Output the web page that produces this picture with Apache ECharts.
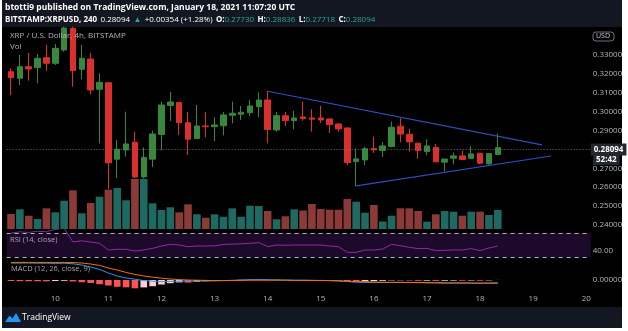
<!DOCTYPE html>
<html><head><meta charset="utf-8">
<script src="https://cdn.jsdelivr.net/npm/echarts@6/dist/echarts.min.js"></script>
<style>html,body{margin:0;padding:0;background:#fff;}#c{width:628px;height:331px;}</style>
</head><body><div id="c"></div>
<script>
// ---- categories: 4h candles from Jan 9 04:00 to Jan 20 00:00 (last 10 slots empty) ----
const dayNums = [9,10,11,12,13,14,15,16,17,18,19,20];
const hourSlots = ['00:00','04:00','08:00','12:00','16:00','20:00'];
const times = [];
dayNums.forEach(d => hourSlots.forEach(h => {
  if (d === 9 && h === '00:00') return;
  if (d === 20 && h !== '00:00') return;
  times.push('Jan ' + d + ' ' + h);
}));

// ---- XRP/USD 4h OHLC ----
const opens  = [0.32116,0.31767,0.32381,0.32328,0.32857,0.32561,0.33265,0.34412,0.32244,0.32788,0.31185,0.31534,0.27482,0.27971,0.28379,0.26541,0.27484,0.28791,0.30327,0.30485,0.29416,0.2858,0.29241,0.29204,0.29252,0.29808,0.29861,0.29946,0.30263,0.30618,0.2903,0.29782,0.29522,0.29718,0.29665,0.29665,0.29612,0.29347,0.29136,0.27355,0.27445,0.28043,0.27948,0.2816,0.29228,0.28805,0.28329,0.27885,0.28107,0.27324,0.27535,0.27657,0.27525,0.278,0.27234,0.2773];
const closes = [0.31799,0.32381,0.32259,0.32825,0.32561,0.33354,0.34429,0.32169,0.32825,0.31148,0.31555,0.27287,0.28011,0.28289,0.26541,0.27574,0.28818,0.30353,0.30512,0.29416,0.28537,0.29241,0.29199,0.29294,0.29824,0.29914,0.29967,0.303,0.30618,0.29056,0.29787,0.29522,0.29665,0.29639,0.29602,0.29559,0.29313,0.29083,0.27297,0.27498,0.28038,0.27974,0.28186,0.29175,0.2881,0.28397,0.27937,0.28186,0.2734,0.27488,0.27657,0.27461,0.27763,0.27271,0.27779,0.28094];
const highs  = [0.32296,0.33,0.33106,0.33053,0.33529,0.33582,0.345,0.345,0.33529,0.33106,0.32032,0.31571,0.285,0.29998,0.28924,0.28103,0.28993,0.30512,0.31041,0.30512,0.29972,0.30353,0.29983,0.29702,0.29972,0.30528,0.303,0.30618,0.31016,0.31094,0.29983,0.29983,0.30036,0.30528,0.30128,0.303,0.2963,0.29384,0.29152,0.28054,0.28133,0.28678,0.28397,0.29472,0.29651,0.29101,0.2835,0.28541,0.28292,0.27498,0.27832,0.27937,0.28171,0.2781,0.2779,0.28836];
const lows   = [0.30883,0.31412,0.3164,0.31503,0.32169,0.32471,0.33175,0.31323,0.31715,0.30909,0.28318,0.25906,0.26489,0.27621,0.26489,0.26462,0.27071,0.27971,0.29506,0.28765,0.27706,0.28553,0.28644,0.28437,0.28739,0.29384,0.29559,0.29771,0.29704,0.28326,0.2894,0.29241,0.29069,0.29522,0.2894,0.29403,0.28874,0.2894,0.27154,0.26043,0.27181,0.27816,0.27604,0.28107,0.28371,0.27885,0.27514,0.27684,0.27324,0.26827,0.27207,0.27445,0.2751,0.27207,0.27181,0.27718];

// ---- Volume (M XRP) ----
const volume = [15,19.7,13.3,10,20.7,16.7,28.3,38.7,15.7,26,32.3,39.3,41,28.7,50,50,25.7,19,21.7,16.7,24.7,14.7,11.3,14.7,12.3,20.7,12.3,23.3,23,18,9.7,12.7,19.7,18.5,25,20,19.3,19.3,30,27.3,16.3,24,7.5,13.3,20.7,20.7,18,7.3,14.7,18,17.3,13.3,17.3,17.3,14,19];

// ---- RSI (14, close) ----
const rsi = [70,72,71,73,72,76,78,55,57,55,52.8,41.7,42.8,42.8,40,41.7,44.4,48.3,51,50,47.2,48.3,48.3,48.6,51,51.5,52,52.8,54,47.2,50,49.5,50,50,50,50,48.3,47.2,37.8,37.8,41.7,41.7,43.3,51.1,48.9,46.1,44,44.4,40.6,41.1,41.7,41.7,44,40.6,45,48.3];
const rsiBands = [30, 70];

// ---- MACD (12, 26, close, 9) ----
const macd = [0.0085,0.0085,0.0085,0.0084,0.0084,0.0083,0.0084,0.0081,0.0075,0.0065,0.0053,0.0035,0.0020,0.0010,0.0004,-0.0003,-0.0006,-0.0008,-0.0007,-0.0006,-0.0006,-0.0005,-0.0005,-0.0004,-0.0003,-0.0002,0.0000,0.0001,0.0002,0.0001,0.0000,0.0000,-0.0001,-0.0001,-0.0002,-0.0002,-0.0003,-0.0005,-0.0008,-0.0011,-0.0012,-0.0013,-0.0013,-0.0012,-0.0012,-0.0012,-0.0013,-0.0013,-0.0014,-0.0015,-0.0015,-0.0015,-0.0015,-0.0016,-0.0015,-0.0014];
const signal = [0.0088,0.0088,0.0088,0.0088,0.0088,0.0088,0.0088,0.0087,0.0085,0.0080,0.0073,0.0060,0.0050,0.0038,0.0028,0.0020,0.0014,0.0009,0.0005,0.0002,0.0000,-0.0001,-0.0002,-0.0003,-0.0003,-0.0002,-0.0002,-0.0001,-0.0001,-0.0001,-0.0001,-0.0001,-0.0002,-0.0002,-0.0002,-0.0003,-0.0003,-0.0004,-0.0006,-0.0008,-0.0009,-0.0010,-0.0011,-0.0012,-0.0012,-0.0013,-0.0013,-0.0014,-0.0014,-0.0015,-0.0015,-0.0015,-0.0016,-0.0016,-0.0016,-0.0016];
const hist = [-0.0005,-0.00055,-0.0006,-0.00062,-0.00065,-0.0005,-0.0004,-0.0007,-0.0011,-0.0015,-0.0021,-0.00275,-0.0034,-0.00365,-0.00415,-0.0037,-0.0031,-0.00225,-0.0016,-0.0012,-0.0013,-0.0009,-0.0006,-0.0004,-0.0002,-0.00005,0.00015,0.00025,0.0003,0.00015,0.0001,0.0,-0.00005,-0.00005,-0.0001,-0.00015,-0.00025,-0.00035,-0.0006,-0.0008,-0.0007,-0.00055,-0.0004,-0.0002,-0.00015,-0.00025,-0.0004,-0.00035,-0.00045,-0.00035,-0.0003,-0.00035,-0.00025,-0.00035,-0.0002,0.00005];

// ---- triangle trend lines [candle index], [price] ----
const upperTrendIdx = [29, 60], upperTrend = [0.3108, 0.2824];
const lowerTrendIdx = [39, 61], lowerTrend = [0.2607, 0.2765];

// ---- text ----
const publishLine = 'btotti9 published on TradingView.com, January 18, 2021 11:07:20 UTC';
const symbolText = 'BITSTAMP:XRPUSD, 240';
const changeText = '+0.00354 (+1.28%)';
const countdown = '52:42';

const upC = '#37873d', dnC = '#d9302c';
const volUp = '#1e6a62', volDn = '#8c3a37';
const GL = 6.6, GW = 584.1;
const labelColor = '#b2b5be';
const FF = 'Open Sans';

const candleData = opens.map((o, i) => [o, closes[i], lows[i], highs[i]]);
const volData = volume.map((v, i) => ({value: v, itemStyle: {color: closes[i] >= opens[i] ? volUp : volDn}}));
const histData = hist.map((h, i) => {
  const prev = i > 0 ? hist[i - 1] : 0;
  let c;
  if (h >= 0) c = h >= prev ? '#26a69a' : '#b2dfdb';
  else c = h < prev ? '#ff5252' : '#ffcdd2';
  return {value: h, itemStyle: {color: c}};
});
const last = closes.length - 1;
const f5 = v => v.toFixed(5);

const chart = echarts.init(document.getElementById('c'), null, {renderer: 'canvas', width: 628, height: 331});

const hiddenX = gi => ({type: 'category', gridIndex: gi, data: times, show: false, boundaryGap: true});

const option = {
  animation: false,
  backgroundColor: '#ffffff',
  textStyle: {fontFamily: FF},
  grid: [
    {left: GL, width: GW, top: 26.67, height: 207.7, outerBoundsMode: 'none'},
    {left: GL, width: GW, top: 129, height: 100, outerBoundsMode: 'none'},
    {left: GL, width: GW, top: 229.4, height: 28.8, outerBoundsMode: 'none'},
    {left: GL, width: GW, top: 258, height: 33, outerBoundsMode: 'none'}
  ],
  xAxis: [
    hiddenX(0), hiddenX(1), hiddenX(2),
    {type: 'category', gridIndex: 3, data: times, boundaryGap: true,
     axisLine: {show: false}, axisTick: {show: false}, splitLine: {show: false},
     axisLabel: {color: labelColor, fontSize: 8, margin: 4, fontFamily: FF,
       interval: (i, v) => v.endsWith('00:00'),
       formatter: v => v.split(' ')[1]}}
  ],
  yAxis: [
    {type: 'value', gridIndex: 0, position: 'right', min: 0.235, max: 0.345, interval: 0.005,
     axisLine: {show: false}, axisTick: {show: false}, splitLine: {show: false},
     axisLabel: {color: labelColor, fontSize: 8, margin: 2, fontFamily: FF,
       formatter: v => { const k = Math.round(v * 1000); if (k % 10 !== 0 || k < 240 || k > 330 || k === 280) return ''; return f5(k / 1000); }}},
    {type: 'value', gridIndex: 1, min: 0, max: 100, show: false},
    {type: 'value', gridIndex: 2, position: 'right', min: 28, max: 76, interval: 4,
     axisLine: {show: false}, axisTick: {show: false}, splitLine: {show: false},
     axisLabel: {color: labelColor, fontSize: 8, margin: 2, fontFamily: FF,
       formatter: v => (Math.abs(v - 40) < 1e-6 ? '40.00' : '')}},
    {type: 'value', gridIndex: 3, position: 'right', min: -0.0055, max: 0.011, interval: 0.0055,
     axisLine: {show: false}, axisTick: {show: false}, splitLine: {show: false},
     axisLabel: {color: labelColor, fontSize: 8, margin: 2, fontFamily: FF,
       formatter: v => (Math.abs(v) < 1e-9 ? '0.00000' : '')}}
  ],
  series: [
    {type: 'bar', name: 'Vol', xAxisIndex: 1, yAxisIndex: 1, data: volData, barWidth: '86%', z: 1, silent: true},
    {type: 'candlestick', name: 'XRPUSD', xAxisIndex: 0, yAxisIndex: 0, data: candleData, barWidth: '68%', z: 3, silent: true,
     itemStyle: {color: upC, color0: dnC, borderColor: upC, borderColor0: dnC, borderWidth: 1},
     markLine: {symbol: 'none', silent: true, animation: false,
       data: [
         {yAxis: closes[last], lineStyle: {color: '#6d707a', type: [1, 2], width: 1},
          label: {show: true, position: 'end', distance: 0, formatter: f5(closes[last]), color: '#ffffff',
                  fontWeight: 'bold', fontSize: 8, fontFamily: FF, backgroundColor: '#23272f', padding: [2, 3, 2, 3]}},
         [{coord: [times[upperTrendIdx[0]], upperTrend[0]], lineStyle: {color: '#2e4fbf', width: 1.2, type: 'solid'}, label: {show: false}},
          {coord: [times[upperTrendIdx[1]], upperTrend[1]]}],
         [{coord: [times[lowerTrendIdx[0]], lowerTrend[0]], lineStyle: {color: '#2e4fbf', width: 1.2, type: 'solid'}, label: {show: false}},
          {coord: [times[lowerTrendIdx[1]], lowerTrend[1]]}]
       ]}},
    {type: 'line', name: 'RSI', xAxisIndex: 2, yAxisIndex: 2, data: rsi, symbol: 'none', silent: true,
     lineStyle: {color: '#8f2c9f', width: 1}, z: 3,
     markArea: {silent: true, itemStyle: {color: '#1d0a2b'}, data: [[{yAxis: rsiBands[0]}, {yAxis: rsiBands[1]}]]},
     markLine: {symbol: 'none', silent: true, label: {show: false},
       lineStyle: {color: '#b4b4bc', type: [4, 4], width: 1},
       data: [{yAxis: rsiBands[1]}, {yAxis: rsiBands[0]}]}},
    {type: 'bar', name: 'Histogram', xAxisIndex: 3, yAxisIndex: 3, data: histData, barWidth: '75%', silent: true, z: 2},
    {type: 'line', name: 'MACD', xAxisIndex: 3, yAxisIndex: 3, data: macd, symbol: 'none', silent: true,
     lineStyle: {color: '#2196f3', width: 1}, z: 3},
    {type: 'line', name: 'Signal', xAxisIndex: 3, yAxisIndex: 3, data: signal, symbol: 'none', silent: true,
     lineStyle: {color: '#ff6d00', width: 1}, z: 3}
  ],
  graphic: [
    {type: 'rect', z: -10, shape: {x: 2, y: 0, width: 620, height: 328}, style: {fill: '#131722'}, silent: true},
    {type: 'rect', z: -9, shape: {x: 2, y: 27, width: 620, height: 280}, style: {fill: '#000000'}, silent: true},
    {type: 'text', z: 100, left: 5, top: 3, silent: true,
     style: {text: publishLine, fill: '#ffffff', fontSize: 8.5, fontWeight: 'bold', fontFamily: FF}},
    {type: 'text', z: 100, left: 5, top: 14, silent: true,
     style: {
       text: '{b|' + symbolText + '} {w|' + f5(closes[last]) + '} {t|▲} {w|' + changeText + '} {b|O:}{t|' + f5(opens[last]) + '} {b|H:}{t|' + f5(highs[last]) + '} {b|L:}{t|' + f5(lows[last]) + '} {b|C:}{t|' + f5(closes[last]) + '}',
       rich: {
         b: {fill: '#ffffff', fontSize: 8, fontWeight: 'bold', fontFamily: FF},
         w: {fill: '#ffffff', fontSize: 8, fontFamily: FF},
         t: {fill: '#26a69a', fontSize: 8, fontFamily: FF}
       }}},
    {type: 'text', z: 100, left: 10, top: 32, silent: true,
     style: {text: 'XRP / U.S. Dollar, 4h, BITSTAMP', fill: '#b2b5be', fontSize: 8, fontFamily: FF}},
    {type: 'text', z: 100, left: 10, top: 43, silent: true,
     style: {text: 'Vol', fill: '#b2b5be', fontSize: 8, fontFamily: FF}},
    {type: 'text', z: 100, left: 10, top: 236, silent: true,
     style: {text: 'RSI (14, close)', fill: '#a3a6af', fontSize: 7.5, fontFamily: FF}},
    {type: 'text', z: 100, left: 11, top: 265, silent: true,
     style: {text: 'MACD (12, 26, close, 9)', fill: '#a3a6af', fontSize: 7.5, fontFamily: FF}},
    {type: 'rect', z: 100, shape: {x: 593, y: 32, width: 21, height: 9, r: 3}, silent: true,
     style: {fill: 'none', stroke: '#6b6e78', lineWidth: 1}},
    {type: 'text', z: 101, left: 596, top: 32.5, silent: true,
     style: {text: 'USD', fill: '#c8cad0', fontSize: 7, fontFamily: FF}},
    {type: 'text', z: 100, left: 593, top: 155, silent: true,
     style: {text: countdown, fill: '#ffffff', fontSize: 8, fontWeight: 'bold', fontFamily: FF, backgroundColor: '#23272f', padding: [1, 3]}},
    {type: 'polygon', z: 100, silent: true, shape: {points: [[5, 322], [9.5, 315.5], [12.5, 318.5], [16, 313], [21, 322]]},
     style: {fill: '#2196f3'}},
    {type: 'text', z: 100, left: 22, top: 313, silent: true,
     style: {text: 'TradingView', fill: '#ffffff', fontSize: 8.5, fontFamily: FF}}
  ]
};
chart.setOption(option);
</script>
</body></html>
